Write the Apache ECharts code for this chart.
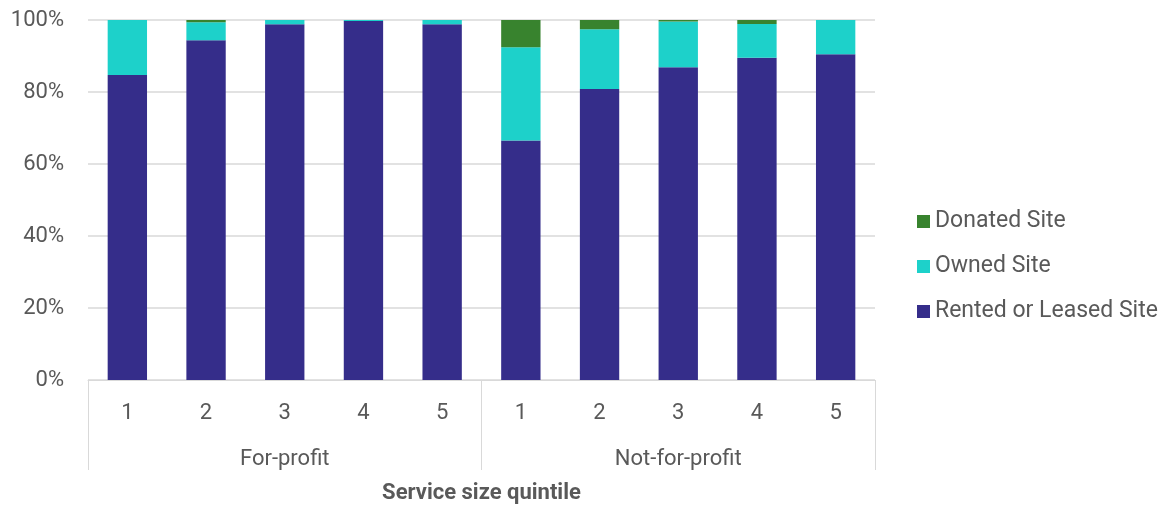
<!DOCTYPE html>
<html>
<head>
<meta charset="utf-8">
<script src="https://cdn.jsdelivr.net/npm/echarts@6/dist/echarts.min.js"></script>
<style>
  html, body { margin: 0; padding: 0; background: #fff; }
  #chart { width: 1176px; height: 505px; }
</style>
</head>
<body>
<div id="chart"></div>
<script>
var quintiles = ['1', '2', '3', '4', '5', '1', '2', '3', '4', '5'];
var groups = ['For-profit', 'Not-for-profit'];
var rented = [84.7, 94.4, 98.8, 99.7, 98.8, 66.5, 80.8, 86.9, 89.5, 90.5];
var owned = [15.3, 5.0, 1.2, 0.3, 1.2, 25.9, 16.6, 12.7, 9.4, 9.5];
var donated = [0, 0.6, 0, 0, 0, 7.6, 2.6, 0.4, 1.1, 0];
var yTicks = [0, 20, 40, 60, 80, 100];

var grey = '#595959';
var lineGrey = '#d9d9d9';
var font = 'Roboto';

var myChart = echarts.init(document.getElementById('chart'));
var option = {
  textStyle: { fontFamily: font },
  legend: {
    orient: 'vertical',
    left: 912,
    top: 205,
    itemWidth: 13,
    itemHeight: 13,
    itemGap: 22,
    icon: 'rect',
    data: ['Donated Site', 'Owned Site', 'Rented or Leased Site'],
    textStyle: { fontSize: 23, color: grey, fontFamily: font }
  },
  grid: {
    left: 88,
    right: 301,
    top: 20,
    bottom: 125,
    outerBoundsMode: 'none'
  },
  xAxis: [
    {
      type: 'category',
      data: quintiles,
      axisLine: { lineStyle: { color: lineGrey, width: 1 } },
      axisTick: { show: false },
      axisLabel: { color: grey, fontSize: 22, margin: 22, fontFamily: font }
    },
    {
      type: 'category',
      data: groups,
      position: 'bottom',
      axisLine: { show: false },
      axisTick: { show: true, length: 90, lineStyle: { color: lineGrey } },
      axisLabel: { color: grey, fontSize: 22, margin: 68, fontFamily: font },
      name: 'Service size quintile',
      nameLocation: 'middle',
      nameGap: 102,
      nameTextStyle: { color: grey, fontSize: 22, fontWeight: 'bold', fontFamily: font }
    }
  ],
  yAxis: {
    type: 'value',
    min: yTicks[0],
    max: yTicks[yTicks.length - 1],
    interval: 20,
    axisLine: { show: false },
    axisTick: { show: false },
    splitLine: { lineStyle: { color: lineGrey, width: 1.5 } },
    axisLabel: { color: grey, fontSize: 22, margin: 24, formatter: '{value}%', fontFamily: font }
  },
  series: [
    {
      name: 'Rented or Leased Site',
      type: 'bar',
      stack: 'site',
      barWidth: '50%',
      itemStyle: { color: '#352d8a' },
      data: rented
    },
    {
      name: 'Owned Site',
      type: 'bar',
      stack: 'site',
      itemStyle: { color: '#1dd1ca' },
      data: owned
    },
    {
      name: 'Donated Site',
      type: 'bar',
      stack: 'site',
      itemStyle: { color: '#38832e' },
      data: donated
    }
  ]
};
myChart.setOption(option);
</script>
</body>
</html>
